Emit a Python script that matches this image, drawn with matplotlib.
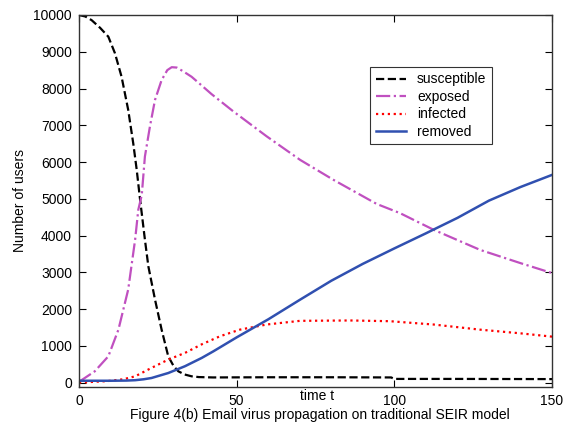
import matplotlib
matplotlib.use("Agg")
import matplotlib.pyplot as plt

plt.rcParams['font.family'] = ['Liberation Sans', 'DejaVu Sans']

# susceptible
t_s = [0, 2, 4, 6.7, 9.3, 11.4, 13.5, 15.6, 17.2, 18.3, 19.3, 20.9, 22.0, 24.1, 26.2, 28.3,
       30, 31.5, 33.5, 35.7, 38, 42.5, 60, 80, 99, 100, 120, 150]
v_s = [10000, 9960, 9860, 9650, 9410, 8960, 8320, 7420, 6510, 5790, 5030, 3890, 3160, 2260, 1440, 715,
       450, 307, 220, 171, 150, 140, 145, 145, 140, 100, 100, 95]
# exposed
t_e = [0, 5, 9.3, 12.5, 15.6, 17.8, 18.8, 19.9, 20.9, 22.5, 24.1, 26.2, 28, 29.4, 31, 33,
       35.7, 38.4, 42, 48.9, 59.5, 70.1, 80.6, 94.4, 101.8, 112.4, 127.2, 140, 150]
v_e = [20, 307, 715, 1440, 2530, 3890, 4700, 5100, 6150, 6970, 7690, 8230, 8500, 8580, 8570, 8470,
       8320, 8120, 7850, 7380, 6700, 6060, 5520, 4860, 4610, 4160, 3610, 3250, 2980]
# infected
t_i = [0, 9, 14, 17.8, 23, 28.3, 33.6, 38.9, 44.7, 51, 59.5, 70.1, 86, 98.6, 112.4, 127.2, 140, 150]
v_i = [0, 40, 90, 170, 400, 625, 807, 1040, 1260, 1440, 1580, 1680, 1690, 1670, 1580, 1440, 1340, 1250]
# removed
t_r = [0, 10, 15, 17.8, 20.5, 23, 28.3, 33.6, 38.9, 42.6, 50, 60, 70, 80, 90, 100, 110,
       120, 130, 140, 150]
v_r = [50, 50, 55, 65, 90, 125, 260, 445, 670, 850, 1230, 1720, 2250, 2770, 3230, 3650, 4060,
       4480, 4950, 5320, 5650]

fig = plt.figure(figsize=(5.68, 4.30), dpi=100)
ax = fig.add_axes([79/568, 1 - 387/430, (552-79)/568, (387-15)/430])

ax.plot(t_s, v_s, color='black', ls='--', lw=1.6, label='susceptible')
ax.plot(t_e, v_e, color='#c050c0', ls='-.', lw=1.6, label='exposed')
ax.plot(t_i, v_i, color='red', ls=':', lw=1.6, label='infected')
ax.plot(t_r, v_r, color='#3050b0', ls='-', lw=1.8, label='removed')

ax.set_xlim(0, 150)
ax.set_ylim(-120, 10000)
ax.set_xticks([0, 50, 100, 150])
ax.set_yticks(range(0, 10001, 1000))
ax.tick_params(direction='in', length=5, labelsize=10, top=True, right=True, pad=5)
for s in ax.spines.values():
    s.set_linewidth(1.0)
    s.set_color('#333333')

ax.set_ylabel('Number of users', fontsize=10)
ax.yaxis.set_label_coords(-0.11, 0.5)

leg = ax.legend(loc='upper left', bbox_to_anchor=((363-79)/473, 1 - (60-15)/372),
                fontsize=10, frameon=True, fancybox=False, edgecolor='black',
                handlelength=2.2, borderpad=0.4, labelspacing=0.25)
leg.get_frame().set_linewidth(0.8)

fig.text(317/568, 1 - 396/430, 'time t', ha='center', va='center', fontsize=10)
fig.text(320/568, 1 - 415/430, 'Figure 4(b) Email virus propagation on traditional SEIR model',
         ha='center', va='center', fontsize=10)

fig.savefig('out.png', dpi=100)
